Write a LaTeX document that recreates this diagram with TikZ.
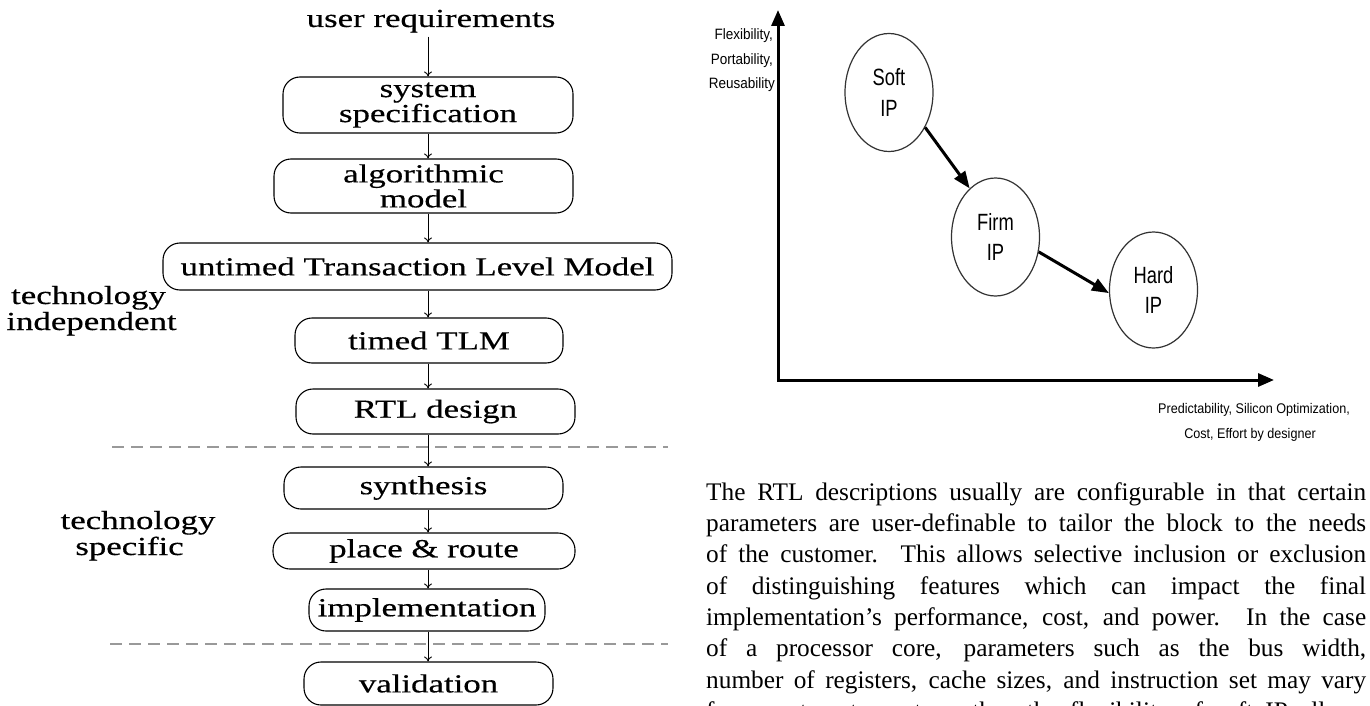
\documentclass[tikz,border=0pt]{standalone}
\usepackage{fontspec}
\usetikzlibrary{shapes.geometric,arrows.meta}
\newfontfamily\dgserif[FakeStretch=1.34,FakeBold=0.4]{Liberation Serif}
\newfontfamily\txserif{Liberation Serif}
\newfontfamily\ipsans[FakeStretch=0.78]{Liberation Sans}
\newfontfamily\axsans[FakeStretch=0.9]{Liberation Sans}
\begin{document}
\begin{tikzpicture}[x=1pt,y=-1pt,
  flow/.style={draw=black, line width=1.1pt, rounded corners=17pt, inner sep=0pt,
    font=\dgserif\fontsize{26}{25}\selectfont, align=center},
  farrow/.style={line width=0.9pt, -{To[length=5pt,width=8pt]}},
  sidelabel/.style={font=\dgserif\fontsize{26}{25}\selectfont, inner sep=0pt, anchor=base},
  sepline/.style={draw=black!40, line width=1.5pt, dash pattern=on 12pt off 7pt},
  ipnode/.style={ellipse, draw=black!80, line width=1.2pt, minimum width=88pt,
    minimum height=118pt, inner sep=0pt, font=\ipsans\fontsize{23.5}{30.5}\selectfont, align=center},
  axisline/.style={line width=3pt, line join=miter,
    {Triangle[length=16pt,width=13pt]}-{Triangle[length=16pt,width=13pt]}},
  iparrow/.style={line width=3pt, -{Triangle[length=17pt,width=13pt]}},
  axlabel/.style={font=\axsans\fontsize{15}{24.5}\selectfont, inner sep=0pt},
]
\useasboundingbox[fill=white] (0,0) rectangle (1370,706);

% ---------------- left: design flow ----------------
\coordinate (ax) at (428,0);
\node[sidelabel] (ureq) at (431,27) {user requirements};
\node[flow, minimum width=290pt, minimum height=56pt] (sys) at (428,105) {system\\specification};
\node[flow, minimum width=299pt, minimum height=54pt] (alg) at (423.5,186) {algorithmic\\model};
\node[flow, minimum width=509pt, minimum height=47pt] (utlm) at (417.5,266.5) {untimed Transaction Level Model};
\node[flow, minimum width=268pt, minimum height=45pt] (ttlm) at (429,340.5) {timed TLM};
\node[flow, minimum width=279pt, minimum height=45pt] (rtl) at (435.5,411.5) {RTL design};
\node[flow, minimum width=279pt, minimum height=42pt] (syn) at (423.5,488) {synthesis};
\node[flow, minimum width=302pt, minimum height=36pt] (pr) at (424,551) {place \& route};
\node[flow, minimum width=236pt, minimum height=42pt] (impl) at (427,610) {implementation};
\node[flow, minimum width=249pt, minimum height=43pt] (val) at (428.5,683.5) {validation};

\draw[farrow, shorten <=4pt] (ureq.south -| ax) -- (sys.north -| ax);
\draw[farrow] (sys.south -| ax) -- (alg.north -| ax);
\draw[farrow] (alg.south -| ax) -- (utlm.north -| ax);
\draw[farrow] (utlm.south -| ax) -- (ttlm.north -| ax);
\draw[farrow] (ttlm.south -| ax) -- (rtl.north -| ax);
\draw[farrow] (rtl.south -| ax) -- (syn.north -| ax);
\draw[farrow] (syn.south -| ax) -- (pr.north -| ax);
\draw[farrow] (pr.south -| ax) -- (impl.north -| ax);
\draw[farrow] (impl.south -| ax) -- (val.north -| ax);

\coordinate (d1a) at (112,447); \coordinate (d1b) at (668,447);
\coordinate (d2a) at (110,644); \coordinate (d2b) at (668,644);
\draw[sepline] (d1a) -- (d1b);
\draw[sepline] (d2a) -- (d2b);

\node[sidelabel] (ti1) at (88.5,304) {technology};
\node[sidelabel] (ti2) at (91.5,330) {independent};
\node[sidelabel] (ts1) at (138,529) {technology};
\node[sidelabel] (ts2) at (129.5,555) {specific};

% ---------------- right: IP chart ----------------
\coordinate (origin) at (778,380);
\coordinate (ytop) at (778,10);
\coordinate (xend) at (1274,380);
\draw[axisline] (ytop) -- (origin) -- (xend);

\node[axlabel, anchor=base east] (yl1) at (773,40) {Flexibility,};
\node[axlabel, anchor=base east] (yl2) at (773,65) {Portability,};
\node[axlabel, anchor=base east] (yl3) at (775,89) {Reusability};

\node[axlabel, font=\axsans\fontsize{14}{25}\selectfont, anchor=base] (xl1) at (1254,413) {Predictability, Silicon Optimization,};
\node[axlabel, font=\axsans\fontsize{14}{25}\selectfont, anchor=base] (xl2) at (1250,438) {Cost, Effort by designer};

\node[ipnode] (soft) at (889,92.5) {Soft\\IP};
\node[ipnode] (firm) at (995.5,237) {Firm\\IP};
\node[ipnode, minimum height=116pt] (hard) at (1153.5,290) {Hard\\IP};
\draw[iparrow] (soft.-44) -- (firm.118);
\draw[iparrow] (firm.-19) -- (hard.184);

% ---------------- paragraph ----------------
\node[anchor=north west, inner sep=0pt, text width=660pt, align=justify,
  font=\txserif\fontsize{25.3}{31.3}\selectfont] (para) at (706,478.1)
  {\strut The RTL descriptions usually are configurable in that certain\linebreak
  parameters are user-definable to tailor the block to the needs\linebreak
  of the customer. This allows selective inclusion or exclusion\linebreak
  of distinguishing features which can impact the final\linebreak
  implementation’s performance, cost, and power. In the case\linebreak
  of a processor core, parameters such as the bus width,\linebreak
  number of registers, cache sizes, and instruction set may vary\linebreak
  from system to system, thus the flexibility of soft IP allows\linebreak
  more};
\end{tikzpicture}
\end{document}
